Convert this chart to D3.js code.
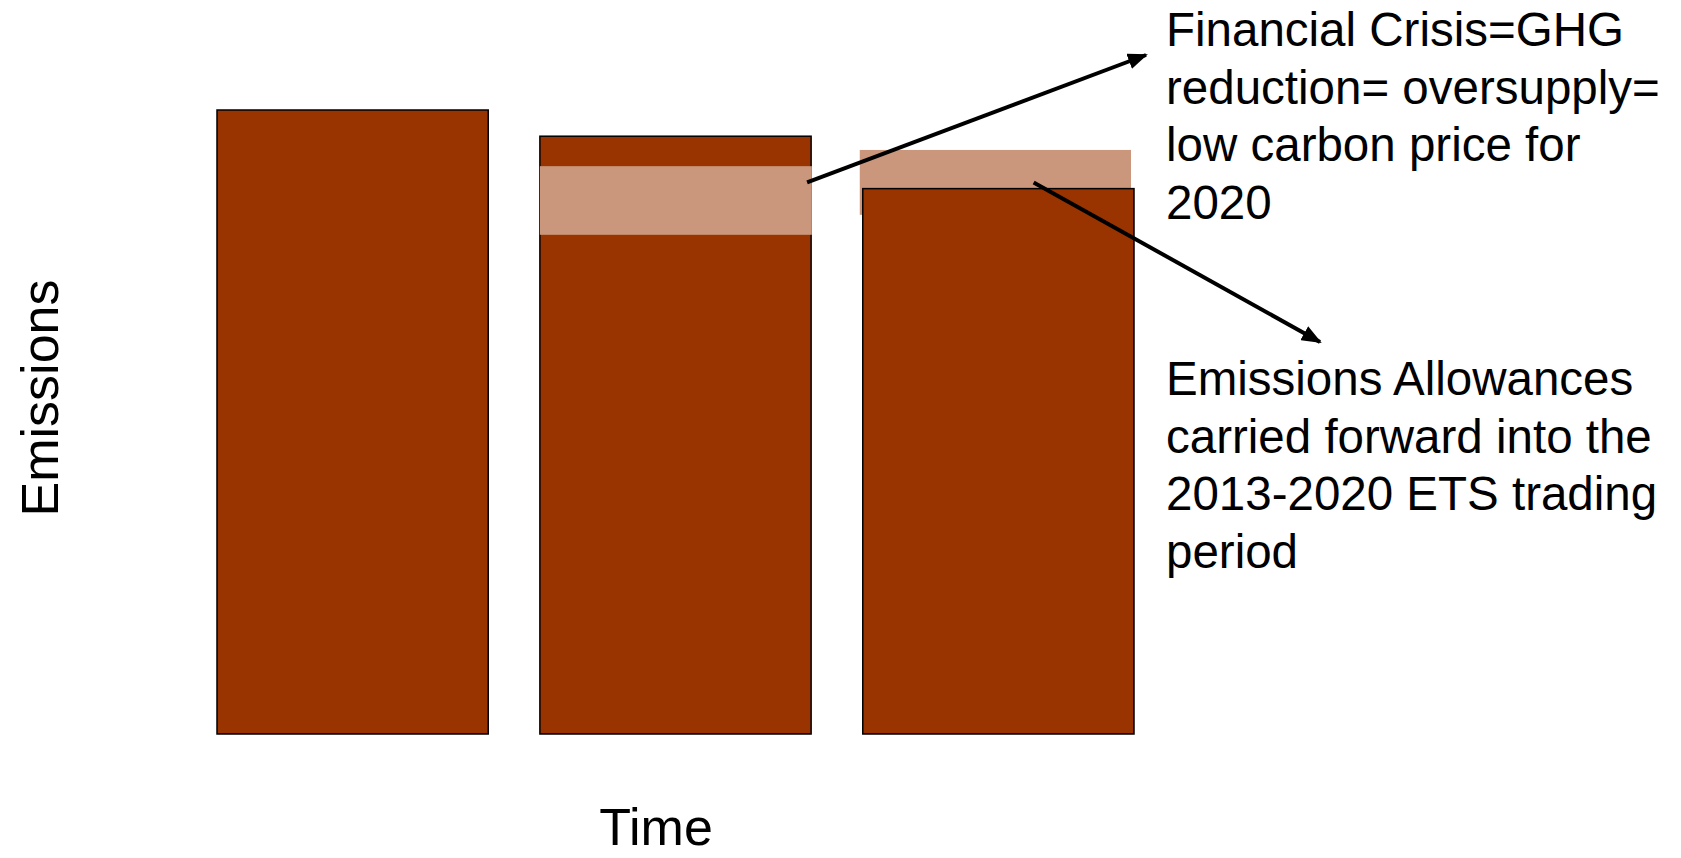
<!DOCTYPE html>
<html>
<head>
<meta charset="utf-8">
<script src="https://cdn.jsdelivr.net/npm/d3@7"></script>
<style>
  body { margin: 0; background: #fff; }
  text { font-family: "Liberation Sans", Arial, sans-serif; fill: #000; }
</style>
</head>
<body>
<svg id="chart" width="1681" height="858"></svg>
<script>
// periods on the time axis
var periods = ["Period 1", "Period 2", "Period 3"];
// emissions per period (first period = 100)
var emissions = [100, 95.8, 87.4];
// financial crisis reduction band on period 2 [low, high]
var reductionBand = [80.0, 91.0];
// allowances carried forward, band on period 3 [low, high]
var carriedBand = [83.2, 93.6];

var note1 = ["Financial Crisis=GHG", "reduction= oversupply=", "low carbon price for", "2020"];
var note2 = ["Emissions Allowances", "carried forward into the", "2013-2020 ETS trading", "period"];

var svg = d3.select("#chart");

var x = d3.scaleBand().domain(periods).range([217, 1134]).paddingInner(0.16);
var y = d3.scaleLinear().domain([0, 100]).range([734, 110]);

var barColor = "#993300";
var bandColor = "#ca977d";

// carried band sits behind the third bar
svg.append("rect")
  .attr("x", x(periods[2]) - 3)
  .attr("y", y(carriedBand[1]))
  .attr("width", x.bandwidth())
  .attr("height", y(carriedBand[0]) - y(carriedBand[1]))
  .attr("fill", bandColor);

svg.selectAll("rect.bar")
  .data(emissions)
  .enter().append("rect")
  .classed("bar", true)
  .attr("x", function(d, i) { return x(periods[i]); })
  .attr("y", function(d) { return y(d); })
  .attr("width", x.bandwidth())
  .attr("height", function(d) { return y(0) - y(d); })
  .attr("fill", barColor)
  .attr("stroke", "#000")
  .attr("stroke-width", 1.5);

// reduction band drawn over the second bar
svg.append("rect")
  .attr("x", x(periods[1]))
  .attr("y", y(reductionBand[1]))
  .attr("width", x.bandwidth() + 0.75)
  .attr("height", y(reductionBand[0]) - y(reductionBand[1]))
  .attr("fill", bandColor);

// arrows
svg.append("defs").append("marker")
  .attr("id", "head")
  .attr("markerUnits", "userSpaceOnUse")
  .attr("viewBox", "0 0 20 16")
  .attr("refX", 18).attr("refY", 8)
  .attr("markerWidth", 20).attr("markerHeight", 16)
  .attr("orient", "auto")
  .append("path")
  .attr("d", "M0,0 L20,8 L0,16 Z")
  .attr("fill", "#000");

var midCarried = (carriedBand[0] + carriedBand[1]) / 2;
var arrows = [
  { x1: x(periods[1]) + x.bandwidth() - 4, y1: y(midCarried), x2: 1146, y2: 55 },
  { x1: x(periods[2]) + x.bandwidth() * 0.63, y1: y(midCarried), x2: 1320, y2: 342 }
];

svg.selectAll("line.arrow")
  .data(arrows)
  .enter().append("line")
  .classed("arrow", true)
  .attr("x1", function(d) { return d.x1; })
  .attr("y1", function(d) { return d.y1; })
  .attr("x2", function(d) { return d.x2; })
  .attr("y2", function(d) { return d.y2; })
  .attr("stroke", "#000")
  .attr("stroke-width", 4)
  .attr("marker-end", "url(#head)");

// annotation text
function block(lines, top)
{
  svg.append("g").selectAll("text")
    .data(lines)
    .enter().append("text")
    .attr("x", 1166)
    .attr("y", function(d, i) { return top + i * 57.7; })
    .style("font-size", "47.5px")
    .text(function(d) { return d; });
}
block(note1, 46);
block(note2, 395);

// axis titles
svg.append("text")
  .attr("transform", "translate(58,398) rotate(-90)")
  .attr("text-anchor", "middle")
  .style("font-size", "52px")
  .text("Emissions");

svg.append("text")
  .attr("x", 656)
  .attr("y", 845)
  .attr("text-anchor", "middle")
  .style("font-size", "52px")
  .text("Time");
</script>
</body>
</html>
